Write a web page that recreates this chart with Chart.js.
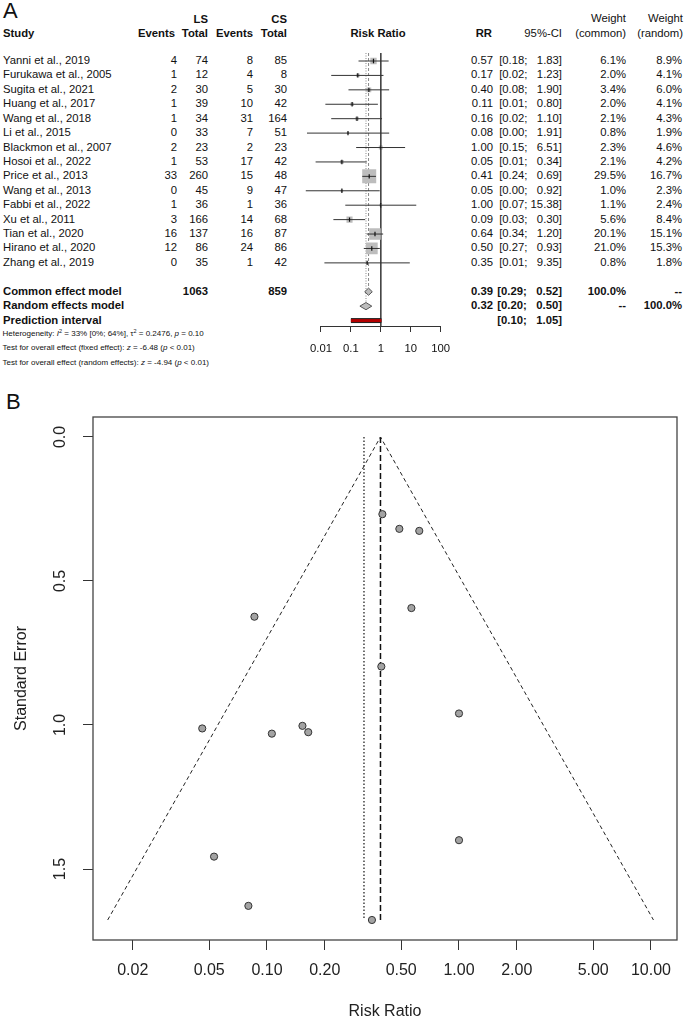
<!DOCTYPE html>
<html>
<head>
<meta charset="utf-8">
<script src="https://cdn.jsdelivr.net/npm/chart.js@4.4.1/dist/chart.umd.min.js"></script>
<style>
html, body { margin: 0; padding: 0; background: #fff; }
body { width: 685px; height: 1021px; position: relative; overflow: hidden;
       font-family: "Liberation Sans", Arial, sans-serif; color: #111; }
.t { position: absolute; white-space: pre; line-height: 1; transform: translateY(-50%); font-size: 11.3px; }
.b { font-weight: bold; }
.small { font-size: 8px; }
.small sup { font-size: 5.5px; vertical-align: 3px; line-height: 0; }
.panel { position: absolute; font-size: 22px; line-height: 1; }
#forestWrap { position: absolute; left: 300px; top: 40px; width: 160px; height: 330px; }
#funnelWrap { position: absolute; left: 0; top: 385px; width: 685px; height: 636px; }
</style>
</head>
<body>
<div class="panel" style="left:3px; top:0px;">A</div>
<div class="panel" style="left:6px; top:391px;">B</div>
<div id="forestWrap"><canvas id="forest" width="160" height="330"></canvas></div>
<div id="funnelWrap"><canvas id="funnel" width="685" height="636"></canvas></div>

<script>
// ===============================
// DATA - panel A (forest plot)
// ===============================
const studies = ["Yanni et al., 2019", "Furukawa et al., 2005", "Sugita et al., 2021", "Huang et al., 2017",
    "Wang et al., 2018", "Li et al., 2015", "Blackmon et al., 2007", "Hosoi et al., 2022", "Price et al., 2013",
    "Wang et al., 2013", "Fabbi et al., 2022", "Xu et al., 2011", "Tian et al., 2020", "Hirano et al., 2020",
    "Zhang et al., 2019"];
const lsEvents = [4, 1, 2, 1, 1, 0, 2, 1, 33, 0, 1, 3, 16, 12, 0];
const lsTotal = [74, 12, 30, 39, 34, 33, 23, 53, 260, 45, 36, 166, 137, 86, 35];
const csEvents = [8, 4, 5, 10, 31, 7, 2, 17, 15, 9, 1, 14, 16, 24, 1];
const csTotal = [85, 8, 30, 42, 164, 51, 23, 42, 48, 47, 36, 68, 87, 86, 42];
const rr = [0.57, 0.17, 0.40, 0.11, 0.16, 0.08, 1.00, 0.05, 0.41, 0.05, 1.00, 0.09, 0.64, 0.50, 0.35];
const ciLow = [0.18, 0.02, 0.08, 0.01, 0.02, 0.00, 0.15, 0.01, 0.24, 0.00, 0.07, 0.03, 0.34, 0.27, 0.01];
const ciHigh = [1.83, 1.23, 1.90, 0.80, 1.10, 1.91, 6.51, 0.34, 0.69, 0.92, 15.38, 0.30, 1.20, 0.93, 9.35];
// where the CI lines really end in the plot (the table rounds them to 0.00 / 0.01)
const lineLow = [0.18, 0.022, 0.083, 0.014, 0.022, 0.0034, 0.15, 0.0066, 0.24, 0.0031, 0.065, 0.026, 0.34, 0.27, 0.013];
const wCommon = [6.1, 2.0, 3.4, 2.0, 2.1, 0.8, 2.3, 2.1, 29.5, 1.0, 1.1, 5.6, 20.1, 21.0, 0.8];
const wRandom = [8.9, 4.1, 6.0, 4.1, 4.3, 1.9, 4.6, 4.2, 16.7, 2.3, 2.4, 8.4, 15.1, 15.3, 1.8];
const totalLS = 1063;
const totalCS = 859;
const pooledLabels = ["Common effect model", "Random effects model", "Prediction interval"];
const pooledRR = [0.39, 0.32];
const pooledLow = [0.29, 0.20];
const pooledHigh = [0.52, 0.50];
const predLow = 0.10;
const predHigh = 1.05;
const forestTicks = [0.01, 0.1, 1, 10, 100];
const forestTickLabels = ["0.01", "0.1", "1", "10", "100"];

// ===============================
// DATA - panel B (funnel plot)
// ===============================
const funnelRR = [0.565, 0.164, 0.394, 0.106, 0.153, 0.080, 1.00, 0.046, 0.399, 0.053, 1.00, 0.086, 0.621, 0.489, 0.352];
const funnelSE = [0.594, 1.025, 0.797, 1.030, 1.003, 1.628, 0.960, 1.012, 0.268, 1.457, 1.400, 0.624, 0.326, 0.319, 1.677];
const funnelEdgeLow = 0.0148;
const funnelEdgeHigh = 10.3;
const funnelSEMax = 1.677;
const funnelXTicks = [0.02, 0.05, 0.1, 0.2, 0.5, 1, 2, 5, 10];
const funnelXLabels = ["0.02", "0.05", "0.10", "0.20", "0.50", "1.00", "2.00", "5.00", "10.00"];
const funnelYTicks = [0, 0.5, 1, 1.5];
const funnelYLabels = ["0.0", "0.5", "1.0", "1.5"];

// ===============================
// TABLE TEXT (panel A)
// ===============================
const ROW0 = 61, PITCH = 14.42;
const rowY = i => ROW0 + PITCH * i;

function put(html, x, y, align, cls) {
    const d = document.createElement("div");
    d.className = "t " + (cls || "");
    d.innerHTML = html;
    d.style.top = y + "px";
    if (align === "right") d.style.right = (685 - x) + "px";
    else if (align === "center") { d.style.left = x + "px"; d.style.transform = "translate(-50%,-50%)"; }
    else d.style.left = x + "px";
    document.body.appendChild(d);
}
const ci = (lo, hi) => "[" + lo.toFixed(2) + "; " + (hi < 10 ? "\u2007" : "") + hi.toFixed(2) + "]";

put("LS", 208, 19.5, "right", "b");
put("CS", 287, 19.5, "right", "b");
put("Weight", 626, 19, "right");
put("Weight", 683, 19, "right");
put("Study", 3, 33.5, "left", "b");
put("Events", 175, 33.5, "right", "b");
put("Total", 208, 33.5, "right", "b");
put("Events", 253, 33.5, "right", "b");
put("Total", 287, 33.5, "right", "b");
put("Risk Ratio", 378, 33.5, "center", "b");
put("RR", 492, 33.5, "right", "b");
put("95%-CI", 562, 33.5, "right");
put("(common)", 626, 33.5, "right");
put("(random)", 683, 33.5, "right");

studies.forEach((s, i) => {
    const y = rowY(i);
    put(s, 3, y, "left");
    put(String(lsEvents[i]), 177, y, "right");
    put(String(lsTotal[i]), 208, y, "right");
    put(String(csEvents[i]), 253, y, "right");
    put(String(csTotal[i]), 287, y, "right");
    put(rr[i].toFixed(2), 493, y, "right");
    put(ci(ciLow[i], ciHigh[i]), 562, y, "right");
    put(wCommon[i].toFixed(1) + "%", 626, y, "right");
    put(wRandom[i].toFixed(1) + "%", 682, y, "right");
});

const pr = studies.length + 1;
put(pooledLabels[0], 3, rowY(pr), "left", "b");
put(String(totalLS), 208, rowY(pr), "right", "b");
put(String(totalCS), 287, rowY(pr), "right", "b");
put(pooledRR[0].toFixed(2), 493, rowY(pr), "right", "b");
put(ci(pooledLow[0], pooledHigh[0]), 562, rowY(pr), "right", "b");
put("100.0%", 626, rowY(pr), "right", "b");
put("--", 682, rowY(pr), "right", "b");
put(pooledLabels[1], 3, rowY(pr + 1), "left", "b");
put(pooledRR[1].toFixed(2), 493, rowY(pr + 1), "right", "b");
put(ci(pooledLow[1], pooledHigh[1]), 562, rowY(pr + 1), "right", "b");
put("--", 626, rowY(pr + 1), "right", "b");
put("100.0%", 682, rowY(pr + 1), "right", "b");
put(pooledLabels[2], 3, rowY(pr + 2), "left", "b");
put(ci(predLow, predHigh), 562, rowY(pr + 2), "right", "b");

put("Heterogeneity: <i>I</i><sup>2</sup> = 33% [0%; 64%], \u03c4<sup>2</sup> = 0.2476, <i>p</i> = 0.10", 2.5, 333.5, "left", "small");
put("Test for overall effect (fixed effect): <i>z</i> = -6.48 (<i>p</i> &lt; 0.01)", 2.5, 348, "left", "small");
put("Test for overall effect (random effects): <i>z</i> = -4.94 (<i>p</i> &lt; 0.01)", 2.5, 362.5, "left", "small");

// ===============================
// FOREST CHART
// ===============================
const FONT = "'Liberation Sans', Arial, sans-serif";
const AREA_TOP = 53, AREA_BOTTOM = 326;           // page pixels of the plotting strip
const yMin = (AREA_TOP - ROW0) / PITCH;
const yMax = (AREA_BOTTOM - ROW0) / PITCH;
const DH = 0.25;                                   // diamond half height, in rows
const maxW = Math.max(...wCommon);

const line = (pts, extra) => Object.assign({
    data: pts, showLine: true, pointRadius: 0, borderWidth: 1, borderColor: "#222", clip: false, order: 4
}, extra);

const forestSets = [];
forestSets.push({
    data: rr.map((v, i) => ({ x: v, y: i })),
    pointStyle: "rect",
    pointRadius: c => Math.sqrt(wCommon[c.dataIndex] / maxW) * 9.9,
    backgroundColor: "#bdbdbd", borderWidth: 0, order: 6
});
studies.forEach((s, i) => forestSets.push(line([{ x: lineLow[i], y: i }, { x: ciHigh[i], y: i }], { borderColor: "#333" })));
forestSets.push({
    data: rr.map((v, i) => ({ x: v, y: i })),
    pointStyle: "line", rotation: 90, pointRadius: 2.2,
    borderColor: "#111", borderWidth: 1.2, order: 3
});
forestSets.push(line([{ x: 1, y: yMin }, { x: 1, y: yMax }], { borderColor: "#444", order: 7 }));
forestSets.push(line([{ x: pooledRR[0], y: yMin }, { x: pooledRR[0], y: pr - DH }], { borderColor: "#888", borderDash: [3, 2], order: 7 }));
forestSets.push(line([{ x: pooledRR[1], y: yMin }, { x: pooledRR[1], y: pr + 1 - DH }], { borderColor: "#888", borderDash: [1, 1.5], order: 7 }));
[0, 1].forEach(k => {
    const r = pr + k;
    forestSets.push(line([
        { x: pooledLow[k], y: r }, { x: pooledRR[k], y: r - DH }, { x: pooledHigh[k], y: r },
        { x: pooledRR[k], y: r + DH }, { x: pooledLow[k], y: r }
    ], { fill: "shape", backgroundColor: "#bdbdbd", borderColor: "#555", order: 2 }));
});
forestSets.push(line([{ x: predLow, y: pr + 2 }, { x: predHigh, y: pr + 2 }], { borderWidth: 5, borderColor: "#222", borderCapStyle: "butt", order: 2 }));
forestSets.push(line([{ x: predLow, y: pr + 2 }, { x: predHigh, y: pr + 2 }], { borderWidth: 3, borderColor: "#b30000", borderCapStyle: "butt", order: 1 }));

new Chart(document.getElementById("forest"), {
    type: "scatter",
    data: { datasets: forestSets },
    options: {
        responsive: false, animation: false, events: [],
        layout: { padding: { left: 11, right: 13, top: AREA_TOP - 40, bottom: 0 } },
        plugins: { legend: { display: false }, tooltip: { enabled: false } },
        scales: {
            x: {
                type: "logarithmic", min: 0.01, max: 100,
                afterBuildTicks: s => { s.ticks = forestTicks.map(v => ({ value: v })); },
                afterFit: s => { s.height = 370 - AREA_BOTTOM; },
                ticks: {
                    autoSkip: false, maxRotation: 0, padding: 10, color: "#111",
                    font: { family: FONT, size: 11.3 },
                    callback: (v, i) => forestTickLabels[i]
                },
                grid: { drawOnChartArea: false, drawTicks: true, tickLength: 6, color: "#333" },
                border: { display: true, color: "#333" }
            },
            y: { type: "linear", display: false, reverse: true, min: yMin, max: yMax }
        }
    }
});

// ===============================
// FUNNEL CHART
// ===============================
const boxPlugin = {
    id: "box",
    afterDraw(chart) {
        const { ctx, chartArea: a } = chart;
        ctx.save();
        ctx.strokeStyle = "#444";
        ctx.lineWidth = 1.3;
        ctx.strokeRect(a.left, a.top, a.right - a.left, a.bottom - a.top);
        ctx.restore();
    }
};

new Chart(document.getElementById("funnel"), {
    type: "scatter",
    data: {
        datasets: [
            {
                data: funnelRR.map((v, i) => ({ x: v, y: funnelSE[i] })),
                pointRadius: 3.6, backgroundColor: "#a3a3a3", borderColor: "#333", borderWidth: 1, order: 1
            },
            line([{ x: funnelEdgeLow, y: funnelSEMax }, { x: pooledRR[0], y: 0 }, { x: funnelEdgeHigh, y: funnelSEMax }],
                { borderDash: [4, 3], borderColor: "#222" }),
            line([{ x: pooledRR[0], y: 0 }, { x: pooledRR[0], y: funnelSEMax }], { borderDash: [6, 3], borderWidth: 1.5, borderColor: "#111" }),
            line([{ x: pooledRR[1], y: 0 }, { x: pooledRR[1], y: funnelSEMax }], { borderDash: [1.5, 2], borderWidth: 1.2, borderColor: "#111" })
        ]
    },
    options: {
        responsive: false, animation: false, events: [],
        layout: { padding: { left: 0, right: 8, top: 32, bottom: 0 } },
        plugins: { legend: { display: false }, tooltip: { enabled: false } },
        scales: {
            x: {
                type: "logarithmic", min: 0.01241, max: 13.66,
                afterBuildTicks: s => { s.ticks = funnelXTicks.map(v => ({ value: v })); },
                afterFit: s => { s.height = 81; },
                ticks: {
                    autoSkip: false, maxRotation: 0, padding: 11, color: "#222",
                    font: { family: FONT, size: 16 },
                    callback: (v, i) => funnelXLabels[i]
                },
                grid: { drawOnChartArea: false, drawTicks: true, tickLength: 10, color: "#333" },
                border: { display: false },
                title: { display: true, text: "Risk Ratio", color: "#222", font: { family: FONT, size: 16 }, padding: { top: 0, bottom: 0 } }
            },
            y: {
                type: "linear", reverse: true, min: -0.0694, max: 1.7465,
                afterBuildTicks: s => { s.ticks = funnelYTicks.map(v => ({ value: v })); },
                afterFit: s => { s.width = 93; },
                ticks: {
                    autoSkip: false, minRotation: 90, maxRotation: 90, crossAlign: "center", padding: 11, color: "#222",
                    font: { family: FONT, size: 16 },
                    callback: (v, i) => funnelYLabels[i]
                },
                grid: { drawOnChartArea: false, drawTicks: true, tickLength: 10, color: "#333" },
                border: { display: false },
                title: { display: true, text: "Standard Error", color: "#222", font: { family: FONT, size: 16 }, padding: { top: 12, bottom: 0 } }
            }
        }
    },
    plugins: [boxPlugin]
});
</script>
</body>
</html>
